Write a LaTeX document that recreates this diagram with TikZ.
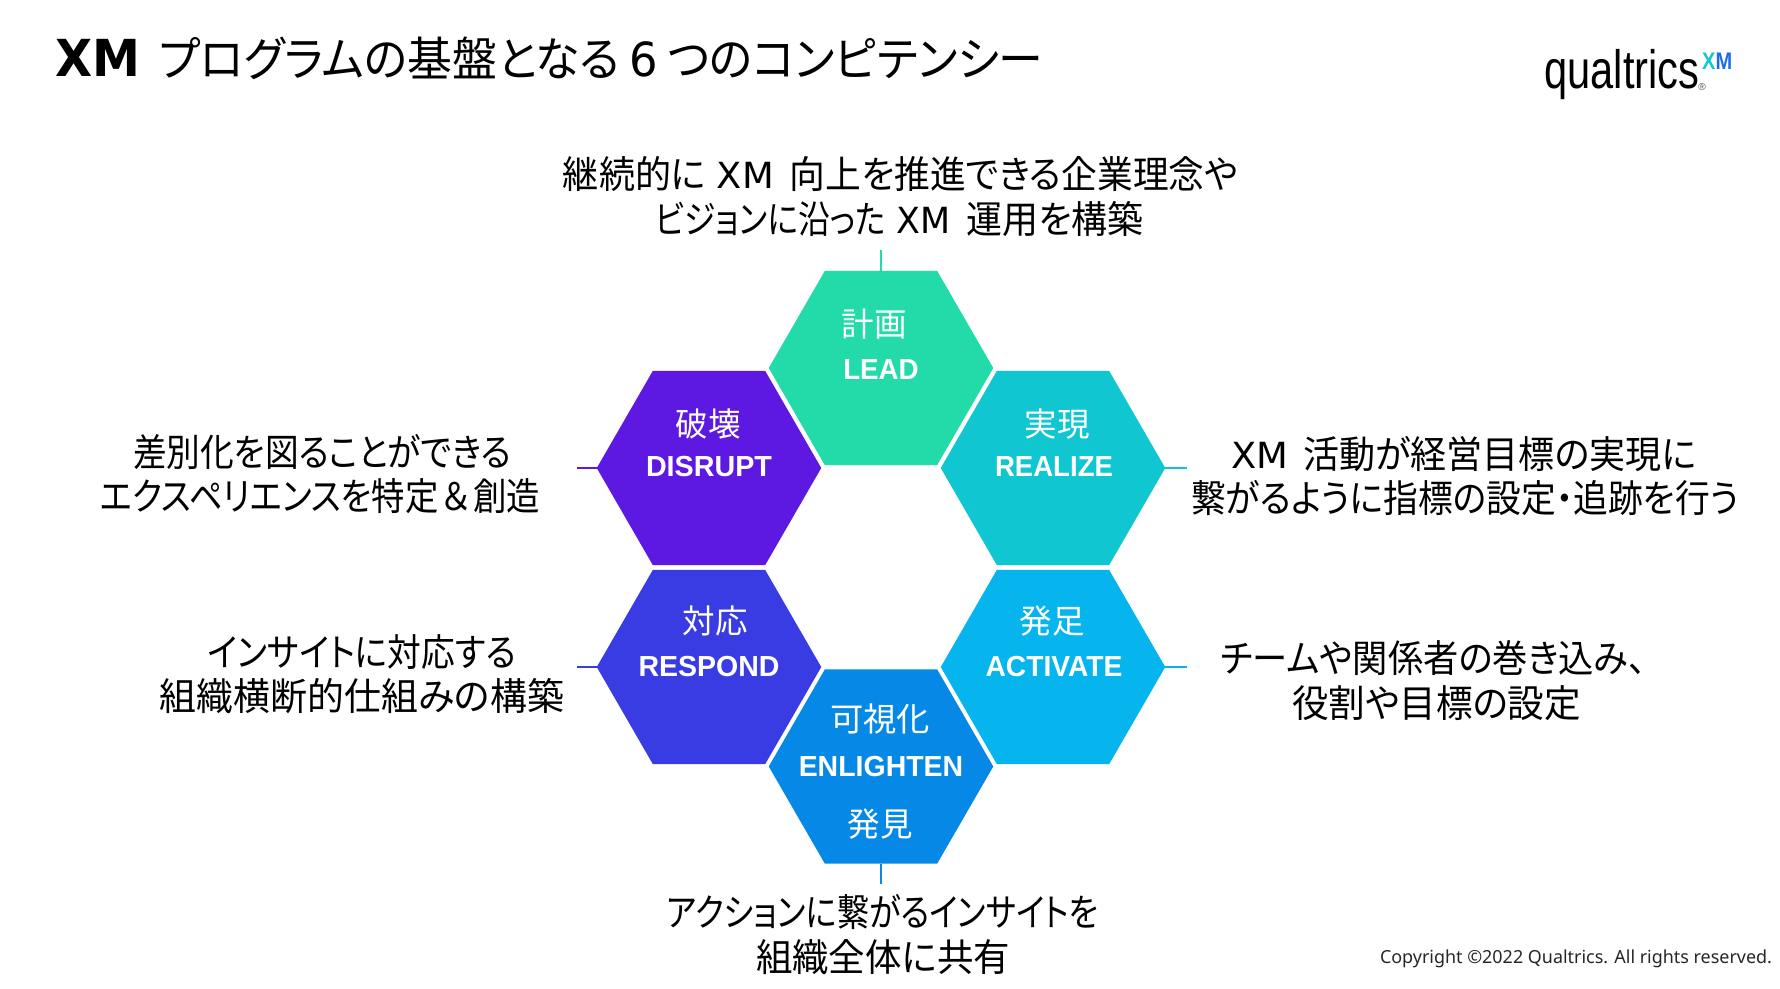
\documentclass[tikz,border=0pt]{standalone}
\usepackage{fontspec}
\usepackage{graphicx}
\usetikzlibrary{shapes.geometric}
\setmainfont[RawFeature=+palt]{Noto Sans CJK JP}
\newfontfamily\latf{Noto Sans}
\newfontfamily\titlelat{DejaVu Sans}
\newfontfamily\logof{Liberation Sans}
\newfontfamily\labf{Liberation Sans}
\newcommand\fitw[2]{\resizebox{#1pt}{\height}{#2}}
\newcommand\xm[1]{\fitw{#1}{\titlelat\fontsize{36}{36}\selectfont XM}}
\definecolor{cLead}{HTML}{22DBA9}
\definecolor{cRealize}{HTML}{10C6D0}
\definecolor{cActivate}{HTML}{06B5EE}
\definecolor{cEnlighten}{HTML}{0588E6}
\definecolor{cRespond}{HTML}{393CE3}
\definecolor{cDisrupt}{HTML}{5D18E2}
\tikzset{
  hexa/.style={regular polygon, regular polygon sides=6,
    minimum size=224.5pt, inner sep=0pt, outer sep=0pt, draw=none, fill=#1},
  tick/.style={line width=1.2pt, draw=#1},
  body/.style={inner sep=0pt, anchor=center, text=black, font=\fontsize{38}{38}\selectfont},
  hexjp/.style={inner sep=0pt, anchor=center, text=white, font=\fontsize{33}{33}\selectfont},
  hexen/.style={inner sep=0pt, anchor=center, text=white, font=\labf\bfseries\fontsize{29}{29}\selectfont},
}
\begin{document}
\begin{tikzpicture}[x=1pt,y=-1pt]
\useasboundingbox (0,0) rectangle (1780,988);
% title
\node[inner sep=0pt, anchor=west, font=\fontsize{47}{47}\selectfont] (title) at (55,58)
  {\fitw{85}{\titlelat\bfseries\fontsize{51}{51}\selectfont XM}\hspace{19pt}\fitw{884}{プログラムの基盤となる\hspace{10pt}{\titlelat 6}\hspace{10pt}つのコンピテンシー}};
% logo
\node[inner sep=0pt, anchor=base, font=\logof\fontsize{54}{54}\selectfont] (logo) at (1622,88) {\fitw{155}{qualtrics}};
\node[inner sep=0pt, font=\logof\fontsize{10}{10}\selectfont, text=black!70] (logoreg) at (1702,87) {®};
\node[inner sep=0pt, anchor=west, font=\logof\bfseries\fontsize{24}{24}\selectfont] (logoxm) at (1702,61)
  {\fitw{30}{\textcolor{cRealize}{X}\textcolor[HTML]{1E6CE8}{M}}};
% hexagons
\node[hexa=cLead] (lead) at (881,368) {};
\node[hexa=cDisrupt] (disrupt) at (709,468) {};
\node[hexa=cRealize] (realize) at (1053,468) {};
\node[hexa=cRespond] (respond) at (709,667) {};
\node[hexa=cActivate] (activate) at (1053,667) {};
\node[hexa=cEnlighten] (enlighten) at (881,766.5) {};
% hexagon labels
\node[hexjp] (leadj) at (874,324) {\fitw{65}{計画}};
\node[hexen] (leade) at (881,370) {\fitw{75.5}{LEAD}};
\node[hexjp] (disruptj) at (708,424) {\fitw{65}{破壊}};
\node[hexen] (disrupte) at (709,467) {\fitw{126}{DISRUPT}};
\node[hexjp] (realizej) at (1057,424) {\fitw{65}{実現}};
\node[hexen] (realizee) at (1054,467) {\fitw{118}{REALIZE}};
\node[hexjp] (respondj) at (715,621) {\fitw{65}{対応}};
\node[hexen] (responde) at (709,667) {\fitw{141}{RESPOND}};
\node[hexjp] (activatej) at (1052,621) {\fitw{65}{発足}};
\node[hexen] (activatee) at (1054,667) {\fitw{137}{ACTIVATE}};
\node[hexjp] (enlightenj) at (880,719) {\fitw{100}{可視化}};
\node[hexen] (enlightene) at (881,767) {\fitw{164.5}{ENLIGHTEN}};
\node[hexjp] (enlightenk) at (880,824) {\fitw{65}{発見}};
% tick ends
\coordinate (tTop) at (881,250);
\coordinate (tBot) at (881,884);
\coordinate (tDis) at (577,468);
\coordinate (tRea) at (1187,468);
\coordinate (tRes) at (577,667);
\coordinate (tAct) at (1187,667);
\draw[tick=cLead] (lead.north) -- (tTop);
\draw[tick=cEnlighten] (enlighten.south) -- (tBot);
\draw[tick=cDisrupt] (disrupt.west) -- (tDis);
\draw[tick=cRealize] (realize.east) -- (tRea);
\draw[tick=cRespond] (respond.west) -- (tRes);
\draw[tick=cActivate] (activate.east) -- (tAct);
% descriptions
\node[body] (top1) at (900.5,174) {\fitw{143}{継続的に}\hspace{11pt}\xm{57}\hspace{16pt}\fitw{448}{向上を推進できる企業理念や}};
\node[body] (top2) at (899.5,219) {\fitw{230}{ビジョンに沿った}\hspace{11pt}\xm{54}\hspace{16pt}\fitw{177}{運用を構築}};
\node[body] (left1a) at (322,452) {\fitw{378}{差別化を図ることができる}};
\node[body] (left1b) at (320,496) {\fitw{440}{エクスペリエンスを特定\hspace{4pt}＆\hspace{4pt}創造}};
\node[body] (left2a) at (362,652) {\fitw{308}{インサイトに対応する}};
\node[body] (left2b) at (362,696) {\fitw{404}{組織横断的仕組みの構築}};
\node[body] (right1a) at (1464,454) {\xm{57}\hspace{15pt}\fitw{393}{活動が経営目標の実現に}};
\node[body] (right1b) at (1465,498) {\fitw{548}{繋がるように指標の設定・追跡を行う}};
\node[body] (right2a) at (1433.5,658) {\fitw{425}{チームや関係者の巻き込み、}};
\node[body] (right2b) at (1436.5,703) {\fitw{289}{役割や目標の設定}};
\node[body] (bot1) at (883,912) {\fitw{432}{アクションに繋がるインサイトを}};
\node[body] (bot2) at (883,957) {\fitw{254}{組織全体に共有}};
% copyright
\node[inner sep=0pt, anchor=center, text=black!85, font=\latf\fontsize{18}{18}\selectfont] (copy) at (1576,959)
  {\fitw{392}{Copyright ©2022 Qualtrics. All rights reserved.}};
\end{tikzpicture}
\end{document}
